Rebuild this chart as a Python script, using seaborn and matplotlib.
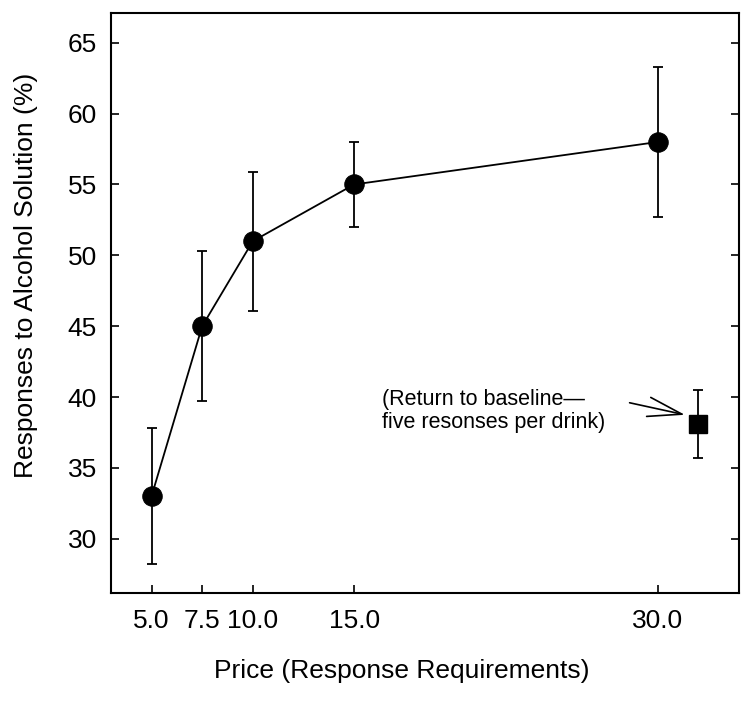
import matplotlib
matplotlib.use("Agg")
import matplotlib.pyplot as plt
import seaborn as sns
import pandas as pd

# data
price = [5.0, 7.5, 10.0, 15.0, 30.0]
responses = [33.0, 45.0, 51.0, 55.0, 58.0]
err = [4.8, 5.3, 4.9, 3.0, 5.3]
baseline_x = [32.0]
baseline_y = [38.1]
baseline_err = [2.4]
xticks = [5.0, 7.5, 10.0, 15.0, 30.0]
yticks = [30, 35, 40, 45, 50, 55, 60, 65]

sns.set_style("ticks")
plt.rcParams['font.family'] = ['Liberation Sans', 'DejaVu Sans']
plt.rcParams['text.color'] = 'black'
plt.rcParams['axes.labelcolor'] = 'black'

df = pd.DataFrame({"price": price, "resp": responses})

fig = plt.figure(figsize=(7.53, 7.01), dpi=100)
ax = fig.add_axes([0.1474, 0.1545, 0.8340, 0.8270])

ax.errorbar(price, responses, yerr=err, fmt='none', ecolor='black',
            elinewidth=1.3, capsize=3.8, capthick=1.3, zorder=2)
sns.lineplot(data=df, x="price", y="resp", ax=ax, color='black', lw=1.3,
             marker='o', markersize=14, markeredgecolor='black', zorder=3)

ax.errorbar(baseline_x, baseline_y, yerr=baseline_err, fmt='none', ecolor='black',
            elinewidth=1.3, capsize=3.8, capthick=1.3, zorder=2)
ax.plot(baseline_x, baseline_y, marker='s', markersize=13, color='black',
        ls='none', zorder=3)

# note + open arrow pointing at the baseline square
ax.text(16.4, 39.05, "(Return to baseline\u2014\nfive resonses per drink)",
        fontsize=15.5, ha='left', va='center', linespacing=1.12, color='black')
ax.annotate("", xy=(31.33, 38.75), xytext=(28.6, 39.6),
            arrowprops=dict(arrowstyle="->, head_length=2.45, head_width=0.7",
                            mutation_scale=10, color='black', lw=1.2,
                            shrinkA=0, shrinkB=0))

ax.set_xlim(3.0, 34.0)
ax.set_ylim(26.2, 67.1)
ax.set_xticks(xticks)
ax.set_xticklabels([f"{v:.1f}" for v in xticks])
ax.set_yticks(yticks)
ax.tick_params(direction='in', length=6, width=1.2, labelsize=19, pad=12,
               right=True, colors='black')
ax.tick_params(axis='y', pad=10)
for s in ax.spines.values():
    s.set_linewidth(1.5)
    s.set_color('black')

ax.set_xlabel("Price (Response Requirements)", fontsize=19, color='black')
ax.set_ylabel("Responses to Alcohol Solution (%)", fontsize=19, color='black')
ax.xaxis.set_label_coords(0.463, -0.115)
ax.yaxis.set_label_coords(-0.117, 0.547)

fig.savefig("out.png", dpi=100)
